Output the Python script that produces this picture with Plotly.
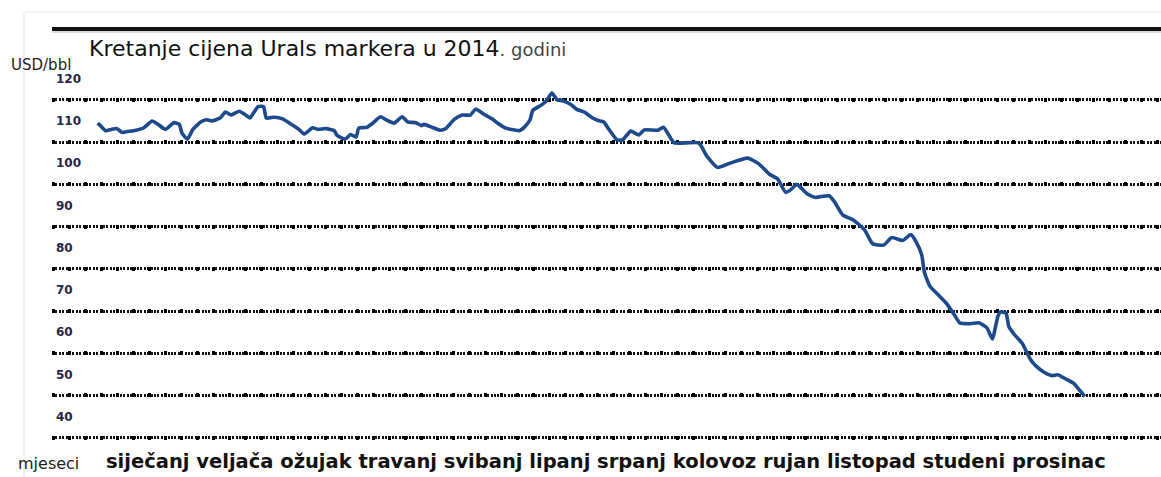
import plotly.graph_objects as go

# ---- data (day of year 2014, Urals price USD/bbl) ----
days = [1, 2, 4, 6, 8, 10, 12, 15, 18, 21, 23, 26, 29, 31, 32, 34, 36, 39, 41, 43,
        46, 48, 50, 53, 55, 57, 58, 60, 62, 63, 66, 69, 72, 75, 77, 80, 82, 85, 88, 89,
        92, 94, 96, 97, 100, 102, 105, 107, 110, 113, 115, 118, 120, 121, 124, 127, 129, 132, 135, 138,
        140, 143, 146, 148, 151, 153, 156, 158, 160, 161, 164, 166, 168, 170, 172, 175, 177, 180, 183, 185,
        187, 189, 192, 194, 197, 200, 202, 207, 209, 211, 213, 222, 225, 229, 233, 240, 244, 248, 251, 254,
        256, 258, 262, 265, 270, 272, 275, 277, 279, 283, 286, 290, 293, 297, 300, 302, 304, 305, 307, 310,
        313, 316, 318, 322, 325, 328, 330, 332, 333, 335, 336, 338, 341, 344, 346, 349, 352, 354, 357, 360,
        362, 364]
prices = [109.5, 108.9, 107.7, 108.0, 108.2, 107.3, 107.5, 107.8, 108.4, 110.0, 109.3, 108.0, 109.6, 109.2, 107.1, 105.7, 108.0, 109.8, 110.3, 110.0,
          110.7, 112.1, 111.4, 112.3, 111.6, 110.7, 111.6, 113.4, 113.4, 110.7, 110.9, 110.5, 109.3, 108.0, 106.9, 108.4, 108.0, 108.2, 107.7, 106.6,
          105.7, 106.8, 106.2, 108.3, 108.5, 109.4, 111.0, 110.3, 109.5, 111.0, 109.8, 109.6, 108.9, 109.2, 108.5, 107.8, 108.2, 110.3, 111.4, 111.4,
          112.8, 111.6, 110.5, 109.5, 108.3, 108.0, 107.7, 108.6, 110.3, 112.5, 113.7, 114.8, 116.6, 115.0, 114.8, 113.9, 112.8, 112.1, 110.7, 110.1,
          109.8, 108.0, 105.5, 105.5, 107.6, 106.7, 107.9, 107.8, 108.5, 106.7, 104.8, 104.8, 101.7, 99.0, 99.9, 101.2, 99.9, 97.4, 96.3, 93.1,
          93.8, 95.0, 92.7, 91.9, 92.3, 90.8, 87.7, 87.1, 86.5, 84.2, 80.9, 80.6, 82.4, 81.7, 83.1, 81.3, 78.3, 74.2, 70.9, 68.9,
          66.9, 64.1, 62.2, 62.0, 62.2, 61.0, 58.4, 63.7, 64.8, 64.5, 61.4, 59.5, 57.3, 53.5, 52.0, 50.5, 49.7, 49.9, 48.9, 47.8,
          46.3, 44.8]

tick_values = [40, 50, 60, 70, 80, 90, 100, 110, 120]
tick_labels = ["40", "50", "60", "70", "80", "90", "100", "110", "120"]
grid_values = [35, 45, 55, 65, 75, 85, 95, 105, 115]
months = ["siječanj", "veljača", "ožujak", "travanj", "svibanj", "lipanj",
          "srpanj", "kolovoz", "rujan", "listopad", "studeni", "prosinac"]
title_main = "Kretanje cijena Urals markera u 2014"
title_tail = ". godini"
y_unit = "USD/bbl"
x_unit = "mjeseci"

# ---- layout geometry ----
W, H = 1161, 477
L, R, T, B = 52, 0, 60, 27
PW, PH = W - L - R, H - T - B


def px(x):
    return (x - L) / PW


def py(y):
    return (H - B - y) / PH


y_range = [32.09, 124.44]
x_range = [-15.8, 392.0]

fig = go.Figure()
fig.add_trace(go.Scatter(x=days, y=prices, mode="lines",
                         line=dict(color="#1d4a8c", width=3.6, shape="spline", smoothing=0.5),
                         hoverinfo="skip", showlegend=False))
# invisible carriers for the overlay grid axes
for ax in ("y2", "y3"):
    fig.add_trace(go.Scatter(x=days, y=prices, mode="lines", yaxis=ax,
                             line=dict(width=0), opacity=0, hoverinfo="skip", showlegend=False))

common_y = dict(range=y_range, fixedrange=True, zeroline=False, showline=False, ticks="")
fig.update_layout(
    width=W, height=H,
    margin=dict(l=L, r=R, t=T, b=B),
    paper_bgcolor="white", plot_bgcolor="white",
    xaxis=dict(range=x_range, showgrid=False, zeroline=False, showline=False,
               showticklabels=False, ticks="", fixedrange=True),
    yaxis=dict(**common_y, tickvals=tick_values,
               ticktext=["<b>%s</b>" % t for t in tick_labels],
               showgrid=False, ticklabelposition="inside", ticklabelstandoff=1,
               tickfont=dict(family="DejaVu Sans", size=12, color="#23264a")),
    yaxis2=dict(**common_y, overlaying="y", side="left", tickvals=grid_values,
                showticklabels=False, showgrid=True, gridcolor="#111111",
                gridwidth=2.5, griddash="2px,1.4px"),
    yaxis3=dict(**common_y, overlaying="y", side="left", tickvals=grid_values,
                showticklabels=False, showgrid=True, gridcolor="#000000",
                gridwidth=4, griddash="3px,13px"),
    showlegend=False,
)

# top heavy rule and faint page frame
fig.add_shape(type="line", xref="paper", yref="paper", x0=px(52), x1=px(1161),
              y0=py(29), y1=py(29), line=dict(color="#111111", width=4))
fig.add_shape(type="line", xref="paper", yref="paper", x0=px(52), x1=px(1161),
              y0=py(32), y1=py(32), line=dict(color="#bbbbbb", width=1))
fig.add_shape(type="line", xref="paper", yref="paper", x0=px(25), x1=px(1161),
              y0=py(12), y1=py(12), line=dict(color="#e6e6e6", width=1))
fig.add_shape(type="line", xref="paper", yref="paper", x0=px(24), x1=px(24),
              y0=py(12), y1=py(477), line=dict(color="#e6e6e6", width=1))

fig.add_annotation(xref="paper", yref="paper", x=px(87), y=py(48), xanchor="left", yanchor="middle",
                   text=title_main + "<span style='font-size:18px;color:#444'>" + title_tail + "</span>",
                   showarrow=False, font=dict(family="DejaVu Sans", size=22, color="#111111"))
fig.add_annotation(xref="paper", yref="paper", x=px(9), y=py(65), xanchor="left", yanchor="middle",
                   text=y_unit, showarrow=False,
                   font=dict(family="DejaVu Sans", size=15, color="#222222"))
fig.add_annotation(xref="paper", yref="paper", x=px(16), y=py(463), xanchor="left", yanchor="middle",
                   text=x_unit, showarrow=False,
                   font=dict(family="DejaVu Sans", size=16, color="#222222"))
fig.add_annotation(xref="paper", yref="paper", x=px(104), y=py(462), xanchor="left", yanchor="middle",
                   text="<b>" + " ".join(months) + "</b>", showarrow=False,
                   font=dict(family="DejaVu Sans", size=19.5, color="#111111"))

fig.write_html("out.html", config={"displayModeBar": False},
               post_script="document.body.style.margin='0';document.body.style.padding='0';")
